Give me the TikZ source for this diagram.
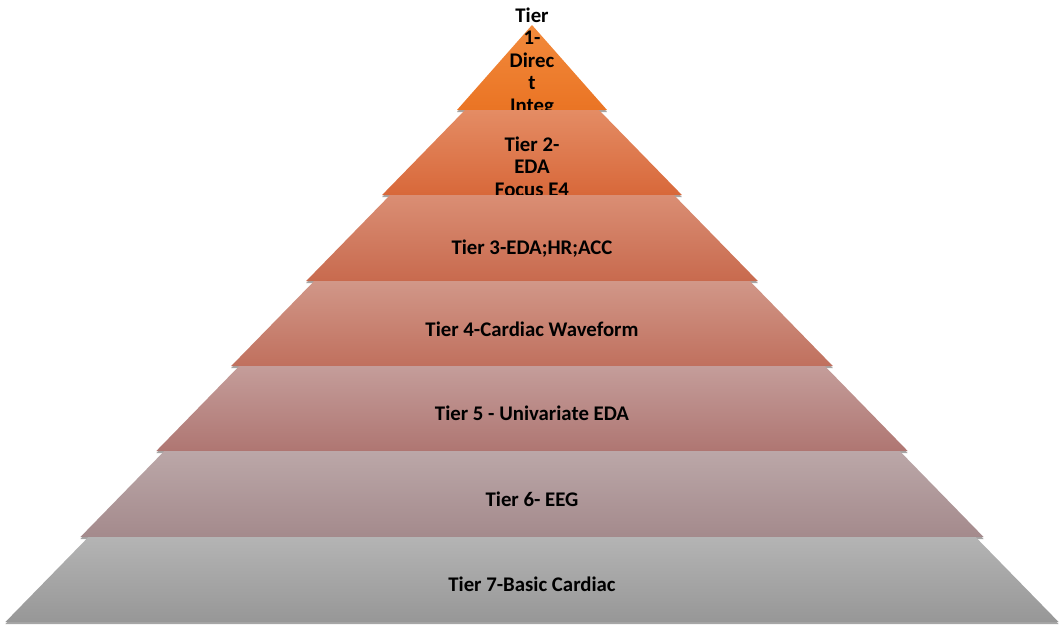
\documentclass[tikz,border=0pt]{standalone}
\usepackage{fontspec}
\setmainfont{Carlito}
\usetikzlibrary{shadows}
\definecolor{t1a}{HTML}{F28A3C}\definecolor{t1b}{HTML}{EA7424}
\definecolor{t2a}{HTML}{E48C64}\definecolor{t2b}{HTML}{D8683A}
\definecolor{t3a}{HTML}{DA8E74}\definecolor{t3b}{HTML}{C86A4E}
\definecolor{t4a}{HTML}{D19788}\definecolor{t4b}{HTML}{C0705E}
\definecolor{t5a}{HTML}{C49D9A}\definecolor{t5b}{HTML}{AF7672}
\definecolor{t6a}{HTML}{BBA7A8}\definecolor{t6b}{HTML}{A48A8C}
\definecolor{t7a}{HTML}{B4B4B4}\definecolor{t7b}{HTML}{979797}
\begin{document}
\begin{tikzpicture}[x=1pt,y=-1pt,
  tier/.style 2 args={top color=#1,bottom color=#2,
    drop shadow={opacity=0.35,shadow xshift=0pt,shadow yshift=-2pt,fill=black}},
  lbl/.style={font=\bfseries\fontsize{20.8}{22.5}\selectfont,inner sep=0pt,anchor=base,text=black}]
\useasboundingbox (0,0) rectangle (1061,630);
% Tier 1
\path[tier={t1a}{t1b}] (532,25) -- (607,110) -- (457,110) -- cycle;
\node[lbl] (l1a) at (532,22) {Tier};
\node[lbl] (l1b) at (532,44.5) {1-};
\node[lbl] (l1c) at (532,67) {Direc};
\node[lbl] (l1d) at (532,89.5) {t};
\node[lbl] (l1e) at (532,112) {Integ};
% Tier 2
\path[tier={t2a}{t2b}] (465,110) -- (599,110) -- (681.9,195) -- (382.1,195) -- cycle;
\node[lbl] (l2a) at (532,151) {Tier 2-};
\node[lbl] (l2b) at (532,173.5) {EDA};
\node[lbl] (l2c) at (532,196) {Focus E4};
% Tier 3
\path[tier={t3a}{t3b}] (390.1,195) -- (673.9,195) -- (757.8,281) -- (306.2,281) -- cycle;
\node[lbl] (l3) at (532,254.5) {Tier 3-EDA;HR;ACC};
% Tier 4
\path[tier={t4a}{t4b}] (314.2,281) -- (749.8,281) -- (832.8,366) -- (231.2,366) -- cycle;
\node[lbl] (l4) at (532,336.5) {Tier 4-Cardiac Waveform};
% Tier 5
\path[tier={t5a}{t5b}] (239.2,366) -- (824.8,366) -- (907.7,451) -- (156.3,451) -- cycle;
\node[lbl] (l5) at (532,420.5) {Tier 5 - Univariate EDA};
% Tier 6
\path[tier={t6a}{t6b}] (164.3,451) -- (899.7,451) -- (983.6,537) -- (80.4,537) -- cycle;
\node[lbl] (l6) at (532,506.5) {Tier 6- EEG};
% Tier 7
\path[tier={t7a}{t7b}] (88.4,537) -- (975.6,537) -- (1058.6,622) -- (5.4,622) -- cycle;
\node[lbl] (l7) at (532,591.5) {Tier 7-Basic Cardiac};
\end{tikzpicture}
\end{document}
